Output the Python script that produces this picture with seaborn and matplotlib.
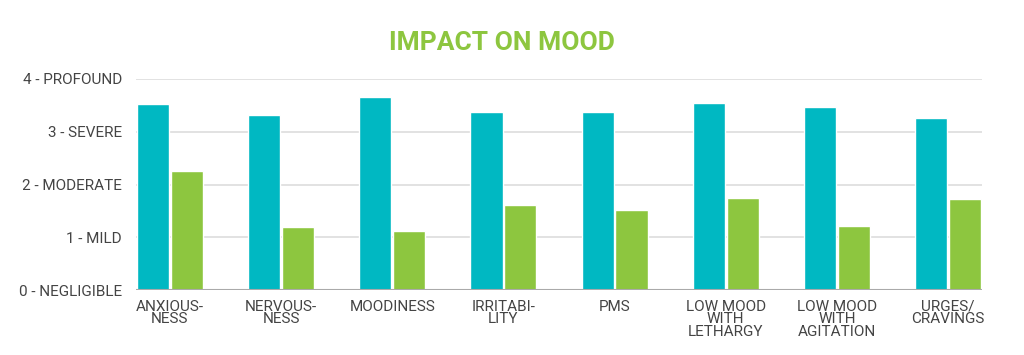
import pandas as pd
import matplotlib
matplotlib.use("Agg")
import matplotlib.pyplot as plt
import seaborn as sns

categories = ["ANXIOUS-\nNESS", "NERVOUS-\nNESS", "MOODINESS", "IRRITABI-\nLITY", "PMS",
              "LOW MOOD\nWITH\nLETHARGY", "LOW MOOD\nWITH\nAGITATION", "URGES/\nCRAVINGS"]
series_1 = [3.52, 3.32, 3.65, 3.38, 3.37, 3.54, 3.46, 3.27]
series_2 = [2.26, 1.20, 1.12, 1.61, 1.52, 1.74, 1.21, 1.72]
y_ticks = [0, 1, 2, 3, 4]
y_labels = ["0 - NEGLIGIBLE", "1 - MILD", "2 - MODERATE", "3 - SEVERE", "4 - PROFOUND"]

df = pd.DataFrame({
    "category": categories * 2,
    "score": series_1 + series_2,
    "series": ["Series 1"] * len(categories) + ["Series 2"] * len(categories),
})

sns.set_style("white")
plt.rcParams["font.family"] = ["Roboto", "DejaVu Sans"]

fig = plt.figure(figsize=(10.24, 3.55), dpi=100)
ax = fig.add_axes([136 / 1024, 1 - 290 / 355, 846 / 1024, 211 / 355])

sns.barplot(data=df, x="category", y="score", hue="series",
            palette=["#00B8C2", "#8DC63F"], width=0.61, gap=0.05,
            saturation=1, ax=ax, legend=False, zorder=3)

ax.set_xlim(-0.305, 7.305)
ax.set_ylim(0, 4)
ax.set_yticks(y_ticks)
ax.set_yticklabels(y_labels)
ax.set_xlabel("")
ax.set_ylabel("")
ax.grid(axis="y", color="#dddddd", linewidth=1.2, zorder=0)
ax.axhline(0, color="#aaaaaa", linewidth=1.5, zorder=4)
for s in ax.spines.values():
    s.set_visible(False)
ax.tick_params(axis="both", length=0, labelsize=11, labelcolor="#444444")
ax.tick_params(axis="y", pad=10)
ax.tick_params(axis="x", pad=7)
for t in ax.get_xticklabels():
    t.set_linespacing(0.88)

fig.text(502 / 1024, 1 - 43 / 355, "IMPACT ON MOOD", ha="center", va="center",
         fontsize=19, fontweight="bold", color="#8DC63F")

fig.savefig("out.png", dpi=100)
